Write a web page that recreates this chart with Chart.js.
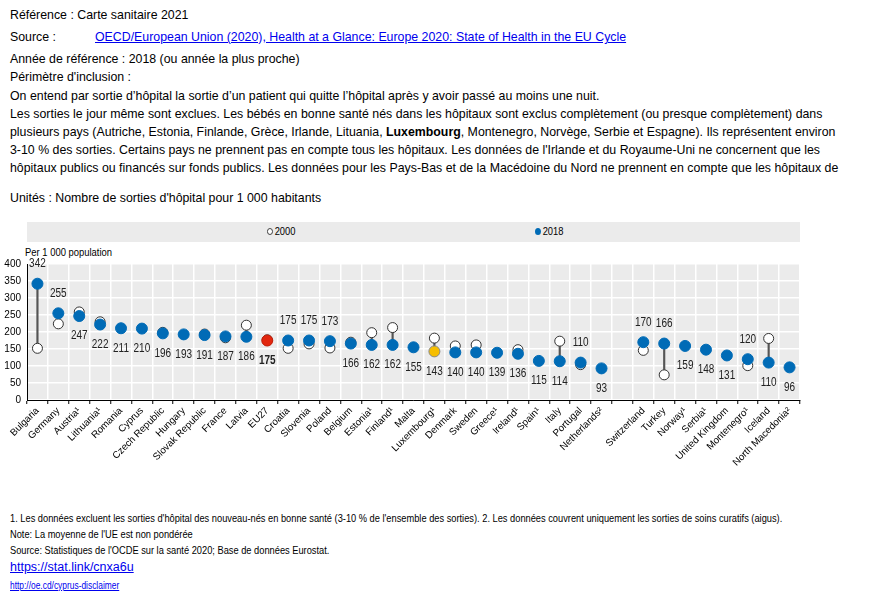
<!DOCTYPE html>
<html>
<head>
<meta charset="utf-8">
<script src="https://cdn.jsdelivr.net/npm/chart.js@4.4.0/dist/chart.umd.min.js"></script>
<style>
  body { margin: 0; background: #fff; width: 873px; height: 600px; overflow: hidden; position: relative; }
  .txt { position: absolute; left: 10px; font-family: "Liberation Sans", Arial, sans-serif; font-size: 12.35px; color: #000; white-space: nowrap; }
  .foot { position: absolute; left: 10px; font-family: "Liberation Sans", Arial, sans-serif; font-size: 11.6px; color: #000; white-space: nowrap; transform: scaleX(0.8); transform-origin: 0 0; }
  a { color: #0000ee; }
  #legend { position: absolute; left: 27px; top: 222px; width: 773px; height: 20px; background: #ebebeb; font-family: "Liberation Sans", Arial, sans-serif; font-size: 11px; }
  #legend span.item { position: absolute; top: 3px; transform: scaleX(0.85); transform-origin: 0 0; }
  .dot { display: inline-block; width: 7px; height: 7px; border-radius: 50%; margin-right: 2px; vertical-align: 0px; box-sizing: border-box; }
  #unit { position: absolute; left: 25px; top: 246px; font-family: "Liberation Sans", Arial, sans-serif; font-size: 11.5px; transform: scaleX(0.82); transform-origin: 0 0; }
  #wrap { position: absolute; left: 0; top: 250px; width: 810px; height: 240px; }
</style>
</head>
<body>
<div class="txt" style="top:8px">Référence : Carte sanitaire 2021</div>
<div class="txt" style="top:30px">Source :<a style="position:absolute;left:85px" href="#">OECD/European Union (2020), Health at a Glance: Europe 2020: State of Health in the EU Cycle</a></div>
<div class="txt" style="top:52px">Année de référence : 2018 (ou année la plus proche)</div>
<div class="txt" style="top:70px">Périmètre d'inclusion :</div>
<div class="txt" style="top:89px">On entend par sortie d’hôpital la sortie d’un patient qui quitte l’hôpital après y avoir passé au moins une nuit.</div>
<div class="txt" style="top:107px">Les sorties le jour même sont exclues. Les bébés en bonne santé nés dans les hôpitaux sont exclus complètement (ou presque complètement) dans</div>
<div class="txt" style="top:125px">plusieurs pays (Autriche, Estonia, Finlande, Grèce, Irlande, Lituania, <b>Luxembourg</b>, Montenegro, Norvège, Serbie et Espagne). Ils représentent environ</div>
<div class="txt" style="top:143px">3-10 % des sorties. Certains pays ne prennent pas en compte tous les hôpitaux. Les données de l'Irlande et du Royaume-Uni ne concernent que les</div>
<div class="txt" style="top:161px">hôpitaux publics ou financés sur fonds publics. Les données pour les Pays-Bas et de la Macédoine du Nord ne prennent en compte que les hôpitaux de</div>
<div class="txt" style="top:191px">Unités : Nombre de sorties d'hôpital pour 1 000 habitants</div>

<div id="legend">
  <span class="item" style="left:240px"><span class="dot" style="border:1px solid #333;background:#fff"></span>2000</span>
  <span class="item" style="left:508px"><span class="dot" style="background:#006bb6"></span>2018</span>
</div>
<div id="unit">Per 1 000 population</div>
<div id="wrap"><canvas id="chart"></canvas></div>

<div class="foot" style="top:511px">1. Les données excluent les sorties d'hôpital des nouveau-nés en bonne santé (3-10 % de l'ensemble des sorties). 2. Les données couvrent uniquement les sorties de soins curatifs (aigus).</div>
<div class="foot" style="top:527px">Note: La moyenne de l'UE est non pondérée</div>
<div class="foot" style="top:543px">Source: Statistiques de l'OCDE sur la santé 2020; Base de données Eurostat.</div>
<div class="foot" style="top:560px;font-size:12.5px;transform:none"><a href="#">https://stat.link/cnxa6u</a></div>
<div class="foot" style="top:579px;font-size:10.5px"><a href="#">http://oe.cd/cyprus-disclaimer</a></div>

<script>
// countries (empty label = gap between EU and non-EU)
const countries = ['Bulgaria', 'Germany', 'Austria¹', 'Lithuania¹', 'Romania', 'Cyprus', 'Czech Republic', 'Hungary',
  'Slovak Republic', 'France', 'Latvia', 'EU27', 'Croatia', 'Slovenia', 'Poland', 'Belgium', 'Estonia¹', 'Finland¹',
  'Malta', 'Luxembourg¹', 'Denmark', 'Sweden', 'Greece¹', 'Ireland¹', 'Spain¹', 'Italy', 'Portugal', 'Netherlands²',
  '', 'Switzerland', 'Turkey', 'Norway¹', 'Serbia¹', 'United Kingdom', 'Montenegro¹', 'Iceland', 'North Macedonia²'];

const values2018 = [342, 255, 247, 222, 211, 210, 196, 193, 191, 187, 186, 175, 175, 175, 173, 166, 162, 162,
  155, 143, 140, 140, 139, 136, 115, 114, 110, 93, null, 170, 166, 159, 148, 131, 120, 110, 96];

// 2000 values (null where no circle is visible)
const values2000 = [152, 224, 259, 230, null, null, 199, null, 194, 183, 220, 177, 152, 165, 153, 170, 198, 213,
  null, 182, 159, 162, null, 148, null, 173, 104, null, null, 146, 74, null, null, null, 101, 181, null];

const yTicks = [0, 50, 100, 150, 200, 250, 300, 350, 400];

const BLUE = '#006bb6';
const font = '"Liberation Sans", Arial, sans-serif';

const pointColors = countries.map(c => c === 'EU27' ? '#e2270f' : (c === 'Luxembourg¹' ? '#f6be00' : BLUE));
const pointBorders = countries.map(c => c === 'Luxembourg¹' ? '#888' : (c === 'EU27' ? '#c01d08' : BLUE));

const bgPlugin = {
  id: 'bg',
  beforeDraw(chart) {
    const a = chart.chartArea, ctx = chart.ctx;
    ctx.save();
    ctx.fillStyle = '#ebebeb';
    ctx.fillRect(a.left, a.top, a.right - a.left, a.bottom - a.top);
    ctx.restore();
  }
};

// value labels for 2018, above the dot when the 2000 value is clearly lower
const labelPlugin = {
  id: 'vals',
  afterDatasetsDraw(chart) {
    const ctx = chart.ctx;
    const meta = chart.getDatasetMeta(0);
    meta.data.forEach((pt, i) => {
      const v = values2018[i];
      if (v == null) return;
      const old = values2000[i];
      const above = old != null && v - old > 5;
      ctx.save();
      ctx.fillStyle = '#222';
      ctx.textAlign = 'center';
      ctx.textBaseline = 'middle';
      ctx.font = (countries[i] === 'EU27' ? 'bold ' : '') + '12.5px ' + font;
      ctx.translate(pt.x, pt.y + (above ? -20 : 20));
      ctx.scale(0.8, 1);
      ctx.fillText(String(v), 0, 0);
      ctx.restore();
    });
  }
};

new Chart(document.getElementById('chart').getContext('2d'), {
  type: 'bar',
  data: {
    labels: countries,
    datasets: [
      {
        type: 'line',
        label: '2018',
        data: values2018,
        showLine: false,
        pointRadius: 5.5,
        pointBackgroundColor: pointColors,
        pointBorderColor: pointBorders,
        pointBorderWidth: 1,
        order: 1
      },
      {
        type: 'line',
        label: '2000',
        data: values2000,
        showLine: false,
        pointRadius: 5,
        pointBackgroundColor: '#fff',
        pointBorderColor: '#333',
        pointBorderWidth: 1,
        order: 2
      },
      {
        type: 'bar',
        label: 'range',
        data: countries.map((c, i) => (values2000[i] != null && values2018[i] != null) ? [values2000[i], values2018[i]] : null),
        backgroundColor: '#555',
        barThickness: 1.5,
        order: 3
      }
    ]
  },
  options: {
    responsive: true,
    maintainAspectRatio: false,
    animation: false,
    layout: { padding: { top: 14, right: 10, left: 0, bottom: 0 } },
    plugins: { legend: { display: false }, tooltip: { enabled: false } },
    scales: {
      x: {
        offset: true,
        grid: { offset: true, color: '#fff', lineWidth: 1.5, tickColor: '#000', tickLength: 4, tickWidth: 1 },
        border: { display: true, color: '#000', width: 1 },
        ticks: { autoSkip: false, maxRotation: 45, minRotation: 45, color: '#000', padding: 1, font: { family: font, size: 9.8 } },
        afterFit(scale) { scale.height = 90; }
      },
      y: {
        min: 0,
        max: 400,
        afterBuildTicks(scale) { scale.ticks = yTicks.map(v => ({ value: v })); },
        grid: { color: '#fff', lineWidth: 1.5, drawTicks: false },
        border: { display: true, color: '#000', width: 1 },
        ticks: { color: '#000', padding: 6, font: { family: font, size: 10 } },
        afterFit(scale) { scale.width = 27; }
      }
    }
  },
  plugins: [bgPlugin, labelPlugin]
});
</script>
</body>
</html>
